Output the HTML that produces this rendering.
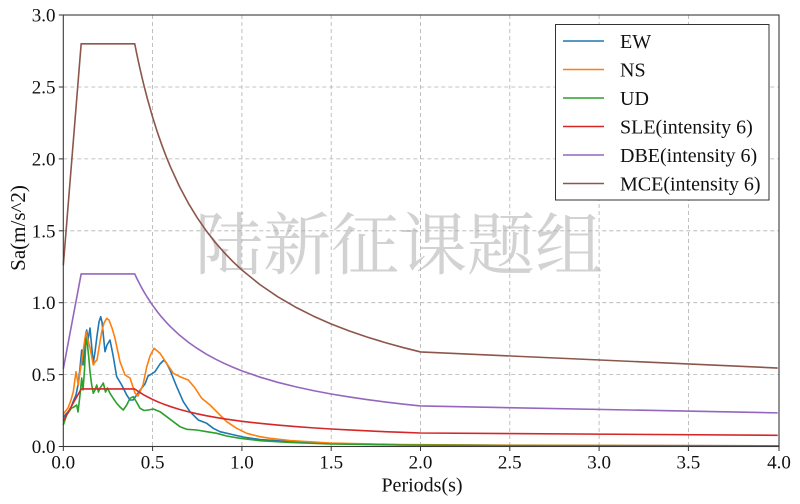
<!DOCTYPE html>
<html>
<head>
<meta charset="utf-8">
<style>
html,body{margin:0;padding:0;background:#fff;}
svg{display:block;}
text{font-family:"Liberation Serif","Noto Serif CJK SC",serif;fill:#111;}
</style>
</head>
<body>
<svg width="800" height="504" viewBox="0 0 800 504" xmlns="http://www.w3.org/2000/svg">
<rect x="0" y="0" width="800" height="504" fill="#fff"/>

<!-- watermark -->
<text x="399" y="269" text-anchor="middle" font-size="68" style="font-family:'Noto Serif CJK SC','Noto Sans CJK SC',serif;fill:#d2d2d2;">陆新征课题组</text>

<!-- grid -->
<g stroke="#b0b0b0" stroke-width="0.8" stroke-dasharray="4,3" fill="none">
<line x1="152.6" y1="15" x2="152.6" y2="446.5"/>
<line x1="241.9" y1="15" x2="241.9" y2="446.5"/>
<line x1="331.2" y1="15" x2="331.2" y2="446.5"/>
<line x1="420.5" y1="15" x2="420.5" y2="446.5"/>
<line x1="509.8" y1="15" x2="509.8" y2="446.5"/>
<line x1="599.1" y1="15" x2="599.1" y2="446.5"/>
<line x1="688.4" y1="15" x2="688.4" y2="446.5"/>
<line x1="63.3" y1="374.6" x2="779" y2="374.6"/>
<line x1="63.3" y1="302.7" x2="779" y2="302.7"/>
<line x1="63.3" y1="230.8" x2="779" y2="230.8"/>
<line x1="63.3" y1="158.9" x2="779" y2="158.9"/>
<line x1="63.3" y1="87" x2="779" y2="87"/>
</g>

<!-- EW -->
<polyline fill="none" stroke="#1f77b4" stroke-width="1.6" stroke-linejoin="round" points="63.3,417 66,414 70,410 73,402 76,395 78,385 80,368 81.7,350 83,365 85,345 86.7,330 88,340 90,328 92,350 93.3,363 95,352 97,336 99,322 100.7,316.7 102,322 105,351.7 107,345 110,340 113,355 116.7,376.7 121.7,385 126.7,395 130,400 133,400 136.7,395 141.7,388 145,384 148,376 150,375 155,371.7 160,364 164,360 167,364 170,370 176.7,386.7 183.3,401.7 190,411.7 198.3,420 206.7,423.3 213.3,428.3 220,431.7 230,434 243,437 260,439.5 290,441.5 330,443.5 400,444.8 500,445.3 779,445.8"/>
<!-- NS -->
<polyline fill="none" stroke="#ff7f0e" stroke-width="1.6" stroke-linejoin="round" points="63.3,414 65,411.7 68,408 71,400 73.3,391.7 76,371.7 78.3,385 80,372 81.7,361.7 84,345 86,331.7 88,340 90,348 93.3,365 95,362 97,360 99,348 101.7,331.7 104,323 106.7,318.3 109,320 112,328 115,338.3 120,361.7 125,375 130,378 135,393 138,396 143,385 146.7,367 150,356 154,348.3 160,353.3 166.7,363.3 173.3,373.3 180,376.7 188.3,380 195,388 201.7,398.3 210,405 218.3,413.3 226.7,421.7 236.7,428.3 246.7,433.3 260,436.7 270,438.3 290,440.5 330,443 400,444.5 500,445.2 779,445.8"/>
<!-- UD -->
<polyline fill="none" stroke="#2ca02c" stroke-width="1.6" stroke-linejoin="round" points="63.3,425 66.7,415 70,410 71.7,408 74,407 76.7,405 78,412 80,395 81.7,378 83,390 84.5,370 86,338.3 87.5,345 89,360 90,371.7 91.7,385 93.3,393.3 95,390 96.7,385 98.5,392 100,388 101.5,386 103.3,383 105.5,392 107.5,388 110,393.3 113,398 116.7,403.3 120,407 123.3,410 126.7,405 130,398.3 133.3,396.7 136.5,402 140,408.3 144,410.5 148.3,410 153.3,409 160,411.7 166.7,416.7 173.3,421.7 180,426.7 186.7,429.3 196.7,430 206.7,431.7 216.7,433.3 226.7,436 240,438.3 260,440.7 290,442.5 330,444 400,445 500,445.6 779,446"/>

<!-- design spectra: data coords -->
<g transform="translate(63.3,446.5) scale(178.6,-143.8)" fill="none" stroke-width="1.6" stroke-linejoin="round">
<g transform="scale(1,0.4)">
<polyline vector-effect="non-scaling-stroke" stroke="#d62728" points="0,0.45 0.1,1 0.4,1 0.41,0.978 0.42,0.957 0.43,0.937 0.44,0.9178 0.45,0.8994 0.47,0.8649 0.5,0.8181 0.525,0.7829 0.55,0.7508 0.575,0.7213 0.6,0.6943 0.65,0.646 0.7,0.6043 0.75,0.568 0.8,0.5359 0.85,0.5074 0.9,0.482 0.95,0.4591 1.0,0.4384 1.1,0.4024 1.2,0.372 1.3,0.3462 1.4,0.3239 1.5,0.3043 1.6,0.2872 1.7,0.2719 1.8,0.2583 1.9,0.246 2.0,0.2349 4.0,0.1949"/>
</g>
<g transform="scale(1,1.2)">
<polyline vector-effect="non-scaling-stroke" stroke="#9467bd" points="0,0.45 0.1,1 0.4,1 0.41,0.978 0.42,0.957 0.43,0.937 0.44,0.9178 0.45,0.8994 0.47,0.8649 0.5,0.8181 0.525,0.7829 0.55,0.7508 0.575,0.7213 0.6,0.6943 0.65,0.646 0.7,0.6043 0.75,0.568 0.8,0.5359 0.85,0.5074 0.9,0.482 0.95,0.4591 1.0,0.4384 1.1,0.4024 1.2,0.372 1.3,0.3462 1.4,0.3239 1.5,0.3043 1.6,0.2872 1.7,0.2719 1.8,0.2583 1.9,0.246 2.0,0.2349 4.0,0.1949"/>
</g>
<g transform="scale(1,2.8)">
<polyline vector-effect="non-scaling-stroke" stroke="#8c564b" points="0,0.45 0.1,1 0.4,1 0.41,0.978 0.42,0.957 0.43,0.937 0.44,0.9178 0.45,0.8994 0.47,0.8649 0.5,0.8181 0.525,0.7829 0.55,0.7508 0.575,0.7213 0.6,0.6943 0.65,0.646 0.7,0.6043 0.75,0.568 0.8,0.5359 0.85,0.5074 0.9,0.482 0.95,0.4591 1.0,0.4384 1.1,0.4024 1.2,0.372 1.3,0.3462 1.4,0.3239 1.5,0.3043 1.6,0.2872 1.7,0.2719 1.8,0.2583 1.9,0.246 2.0,0.2349 4.0,0.1949"/>
</g>
</g>

<!-- spines -->
<rect x="63.3" y="15" width="715.7" height="431.5" fill="none" stroke="#3a3a3a" stroke-width="1.1"/>

<!-- ticks -->
<g stroke="#333" stroke-width="1">
<line x1="63.3" y1="446.5" x2="63.3" y2="451"/>
<line x1="152.6" y1="446.5" x2="152.6" y2="451"/>
<line x1="241.9" y1="446.5" x2="241.9" y2="451"/>
<line x1="331.2" y1="446.5" x2="331.2" y2="451"/>
<line x1="420.5" y1="446.5" x2="420.5" y2="451"/>
<line x1="509.8" y1="446.5" x2="509.8" y2="451"/>
<line x1="599.1" y1="446.5" x2="599.1" y2="451"/>
<line x1="688.4" y1="446.5" x2="688.4" y2="451"/>
<line x1="779" y1="446.5" x2="779" y2="451"/>
<line x1="58.8" y1="446.5" x2="63.3" y2="446.5"/>
<line x1="58.8" y1="374.6" x2="63.3" y2="374.6"/>
<line x1="58.8" y1="302.7" x2="63.3" y2="302.7"/>
<line x1="58.8" y1="230.8" x2="63.3" y2="230.8"/>
<line x1="58.8" y1="158.9" x2="63.3" y2="158.9"/>
<line x1="58.8" y1="87" x2="63.3" y2="87"/>
<line x1="58.8" y1="15" x2="63.3" y2="15"/>
</g>

<!-- tick labels -->
<g font-size="19" text-anchor="middle">
<text x="63.3" y="468.5">0.0</text>
<text x="152.6" y="468.5">0.5</text>
<text x="241.9" y="468.5">1.0</text>
<text x="331.2" y="468.5">1.5</text>
<text x="420.5" y="468.5">2.0</text>
<text x="509.8" y="468.5">2.5</text>
<text x="599.1" y="468.5">3.0</text>
<text x="688.4" y="468.5">3.5</text>
<text x="779" y="468.5">4.0</text>
</g>
<g font-size="19" text-anchor="end">
<text x="55.5" y="453">0.0</text>
<text x="55.5" y="381.1">0.5</text>
<text x="55.5" y="309.2">1.0</text>
<text x="55.5" y="237.3">1.5</text>
<text x="55.5" y="165.4">2.0</text>
<text x="55.5" y="93.5">2.5</text>
<text x="55.5" y="21.5">3.0</text>
</g>

<!-- axis labels -->
<text x="422" y="491.5" font-size="20" text-anchor="middle">Periods(s)</text>
<text transform="translate(25,228) rotate(-90)" font-size="21" text-anchor="middle">Sa(m/s^2)</text>

<!-- legend -->
<rect x="555.5" y="24.5" width="213.5" height="175.5" fill="#fff" stroke="#333" stroke-width="1"/>
<g stroke-width="1.6">
<line x1="563" y1="41" x2="604" y2="41" stroke="#1f77b4"/>
<line x1="563" y1="69.5" x2="604" y2="69.5" stroke="#ff7f0e"/>
<line x1="563" y1="98" x2="604" y2="98" stroke="#2ca02c"/>
<line x1="563" y1="126.5" x2="604" y2="126.5" stroke="#d62728"/>
<line x1="563" y1="155" x2="604" y2="155" stroke="#9467bd"/>
<line x1="563" y1="183.5" x2="604" y2="183.5" stroke="#8c564b"/>
</g>
<g font-size="20">
<text x="620" y="48">EW</text>
<text x="620" y="76.5">NS</text>
<text x="620" y="105">UD</text>
<text x="620" y="133.5">SLE(intensity 6)</text>
<text x="620" y="162">DBE(intensity 6)</text>
<text x="620" y="190.5">MCE(intensity 6)</text>
</g>
</svg>
</body>
</html>
